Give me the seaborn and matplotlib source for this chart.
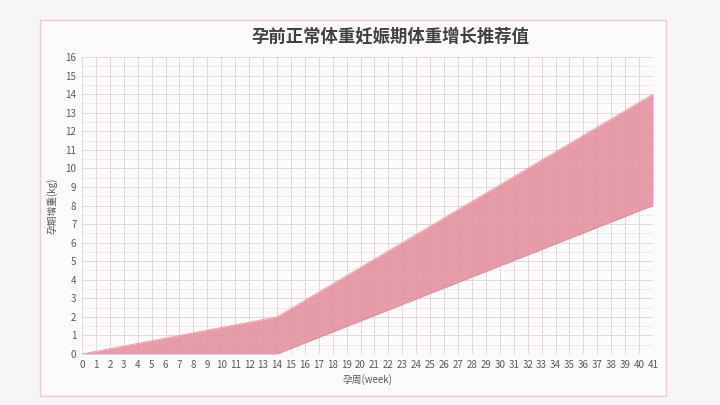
import matplotlib
matplotlib.use("Agg")
import matplotlib.pyplot as plt
import seaborn as sns
import pandas as pd
from matplotlib.patches import Rectangle
from matplotlib.ticker import MultipleLocator

# 孕前正常体重: recommended weight gain range by gestational week
weeks = [0, 14, 41]
lower_kg = [0, 0, 8]
upper_kg = [0, 2, 14]

title = "孕前正常体重妊娠期体重增长推荐值"
x_label = "孕周(week)"
y_label = "孕期增重(kg)"

fill_color = "#e48c9b"
grid_color = "#e0d8db"
text_color = "#595959"

sns.set_theme(style="white")
plt.rcParams["font.family"] = ["Noto Sans CJK SC", "DejaVu Sans"]

df = pd.DataFrame({"week": weeks, "lower": lower_kg, "upper": upper_kg})

fig = plt.figure(figsize=(7.2, 4.05), dpi=100)
fig.patch.set_facecolor("#f7f5f5")

# chart frame
frame = Rectangle((40 / 720, 1 - 396 / 405), 626 / 720, 376 / 405,
                  transform=fig.transFigure, facecolor="#fcfafb",
                  edgecolor="#efc9d0", linewidth=1.0, zorder=-5)
fig.patches.append(frame)

ax = fig.add_axes([82 / 720, 1 - 354 / 405, 571 / 720, 297 / 405])
ax.set_zorder(2)
ax.set_facecolor("#fcfafb")

# grid first, then a translucent band so the grid shows through darker
ax.set_axisbelow(True)
ax.grid(which="major", axis="both", color=grid_color, linewidth=0.7)
ax.grid(which="minor", axis="y", color=grid_color, linewidth=0.5, alpha=0.6)

ax.fill_between(df["week"], df["lower"], df["upper"], color=fill_color,
                alpha=0.85, linewidth=0, zorder=1)
sns.lineplot(data=df, x="week", y="upper", color=fill_color, alpha=0.85, linewidth=0.6, ax=ax, zorder=1)
sns.lineplot(data=df, x="week", y="lower", color=fill_color, alpha=0.85, linewidth=0.6, ax=ax, zorder=1)

ax.set_xlim(0, 41)
ax.set_ylim(0, 16)
ax.xaxis.set_major_locator(MultipleLocator(1))
ax.yaxis.set_major_locator(MultipleLocator(1))
ax.yaxis.set_minor_locator(MultipleLocator(0.5))

for s in ax.spines.values():
    s.set_visible(False)

ax.tick_params(axis="both", which="both", length=0, labelsize=7, colors=text_color, pad=4)

ax.set_xlabel(x_label, fontsize=7, color=text_color, labelpad=3)
ax.set_ylabel(y_label, fontsize=7, color=text_color, labelpad=6)
fig.text(390 / 720, 1 - 37 / 405, title, ha="center", va="center",
         fontsize=12.5, fontweight="bold", color="#404040", zorder=3)

fig.savefig("out.png", dpi=100, facecolor=fig.get_facecolor())
